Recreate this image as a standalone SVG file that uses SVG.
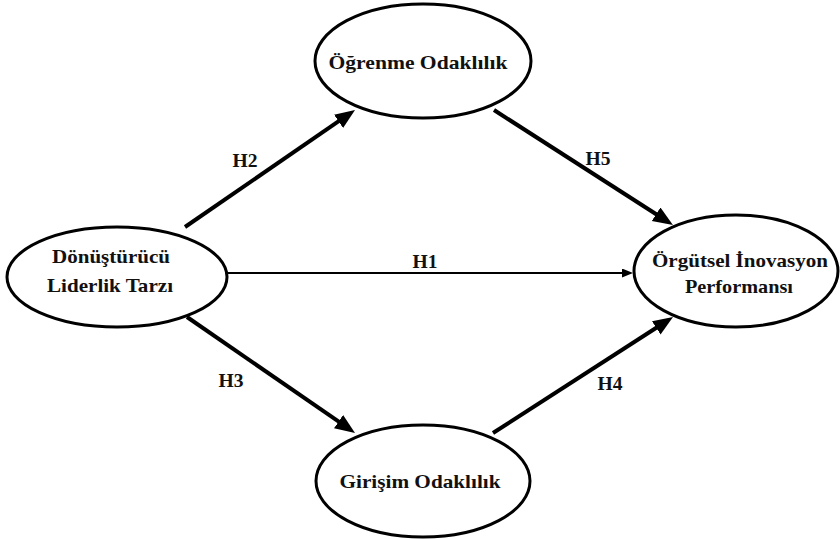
<svg xmlns="http://www.w3.org/2000/svg" width="840" height="539" viewBox="0 0 840 539">
<defs>
<style>
.node ellipse{fill:#fff;stroke:#000;stroke-width:3}
text{font-family:'Liberation Serif','Times New Roman','DejaVu Serif',serif;font-weight:700;fill:#111;text-anchor:middle}
.lbl{font-size:19px}
.h{font-size:18px}
.thick{stroke:#000;stroke-width:4;fill:none;marker-end:url(#big)}
.thin{stroke:#000;stroke-width:2;fill:none;marker-end:url(#small)}
</style>
<marker id="big" markerUnits="userSpaceOnUse" markerWidth="22" markerHeight="18" refX="2" refY="8" orient="auto">
<path d="M0,0 L20,8 L0,16 Z" fill="#000"/>
</marker>
<marker id="small" markerUnits="userSpaceOnUse" markerWidth="12" markerHeight="10" refX="1" refY="4.5" orient="auto">
<path d="M0,0 L11,4.5 L0,9 Z" fill="#000"/>
</marker>
</defs>
<rect width="840" height="539" fill="#fff"/>
<g id="connectors">
<line class="thick" x1="185" y1="227" x2="340.2" y2="120.2"/>
<line class="thick" x1="494" y1="110" x2="657.8" y2="215.3"/>
<line class="thin" x1="228" y1="273" x2="623" y2="273"/>
<line class="thick" x1="187" y1="317" x2="340.2" y2="422.7"/>
<line class="thick" x1="493" y1="433" x2="657.9" y2="326.8"/>
<text class="h" x="245" y="167" textLength="25" lengthAdjust="spacingAndGlyphs" font-family="Liberation Serif, serif">H2</text>
<text class="h" x="598" y="165" textLength="25" lengthAdjust="spacingAndGlyphs">H5</text>
<text class="h" x="425" y="268" textLength="25" lengthAdjust="spacingAndGlyphs">H1</text>
<text class="h" x="231" y="387" textLength="25" lengthAdjust="spacingAndGlyphs">H3</text>
<text class="h" x="610" y="390" textLength="25" lengthAdjust="spacingAndGlyphs">H4</text>
</g>
<g id="node-donusturucu" class="node">
<ellipse cx="117" cy="277" rx="110" ry="50"/>
<text class="lbl" x="111" y="263" textLength="118" lengthAdjust="spacingAndGlyphs">Dönüştürücü</text>
<text class="lbl" x="110" y="292" textLength="126" lengthAdjust="spacingAndGlyphs">Liderlik Tarzı</text>
</g>
<g id="node-ogrenme" class="node">
<ellipse cx="423" cy="61" rx="108" ry="57"/>
<text class="lbl" x="418" y="69" textLength="179" lengthAdjust="spacingAndGlyphs">Öğrenme Odaklılık</text>
</g>
<g id="node-girisim" class="node">
<ellipse cx="423" cy="481" rx="107" ry="56"/>
<text class="lbl" x="420" y="488" textLength="161" lengthAdjust="spacingAndGlyphs">Girişim Odaklılık</text>
</g>
<g id="node-orgutsel" class="node">
<ellipse cx="736" cy="271" rx="102" ry="56"/>
<text class="lbl" x="740" y="267" textLength="176" lengthAdjust="spacingAndGlyphs">Örgütsel İnovasyon</text>
<text class="lbl" x="739" y="293" textLength="108" lengthAdjust="spacingAndGlyphs">Performansı</text>
</g>
</svg>
